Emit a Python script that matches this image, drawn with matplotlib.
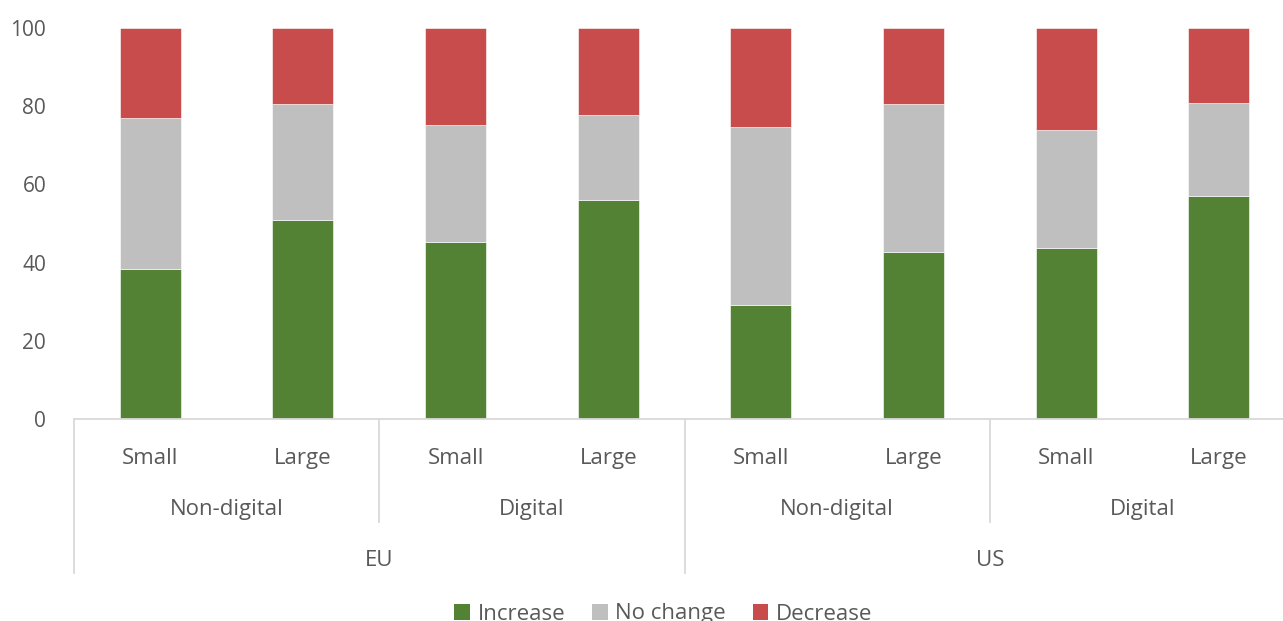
import matplotlib
matplotlib.use("Agg")
import matplotlib.pyplot as plt
import matplotlib.transforms as mtransforms
from matplotlib.patches import Patch
import numpy as np

# ---- data ----
regions = ["EU", "US"]
sectors = ["Non-digital", "Digital"]
sizes = ["Small", "Large"]
size_labels = ["Small", "Large", "Small", "Large", "Small", "Large", "Small", "Large"]
increase = [38.4, 50.9, 45.3, 56.0, 29.2, 42.7, 43.7, 57.0]
no_change = [38.5, 29.7, 30.0, 21.7, 45.4, 37.9, 30.2, 23.7]
decrease = [23.1, 19.4, 24.7, 22.3, 25.4, 19.4, 26.1, 19.3]
series_names = ["Increase", "No change", "Decrease"]
colors = ["#548235", "#BFBFBF", "#C84C4C"]

W, H = 1283, 621
plt.rcParams['font.family'] = ['Open Sans', 'DejaVu Sans']
fig = plt.figure(figsize=(W / 100, H / 100), dpi=100)

left_px, right_px, bottom_px, top_px = 74, 1295, 419, 28
ax = fig.add_axes([left_px / W, 1 - bottom_px / H, (right_px - left_px) / W, (bottom_px - top_px) / H])

x = np.arange(len(increase))
inc = np.array(increase)
nc = np.array(no_change)
dec = np.array(decrease)
bw = 0.4
ax.bar(x, inc, bw, color=colors[0], edgecolor="white", linewidth=0.4, zorder=2)
ax.bar(x, nc, bw, bottom=inc, color=colors[1], edgecolor="white", linewidth=0.4, zorder=2)
ax.bar(x, dec, bw, bottom=inc + nc, color=colors[2], edgecolor="white", linewidth=0.4, zorder=2)

ax.set_xlim(-0.5, len(x) - 0.5)
ax.set_ylim(0, 100)
ax.set_yticks([0, 20, 40, 60, 80, 100])
ax.tick_params(axis='y', length=0, pad=20, labelsize=15, labelcolor="#595959")
ax.set_xticks([])
for s in ["top", "right", "left"]:
    ax.spines[s].set_visible(False)
ax.spines["bottom"].set_color("#D9D9D9")
ax.spines["bottom"].set_linewidth(1.3)

txt_col = "#595959"
trans = mtransforms.blended_transform_factory(ax.transData, fig.transFigure)

def fy(py):
    return 1 - py / H

# level 1 labels
for i, lab in enumerate(size_labels):
    ax.text(x[i], fy(464), lab, transform=trans, ha="center", va="baseline",
            fontsize=16, color=txt_col, clip_on=False)

# level 2 labels
n_sec = len(sectors)
n_size = len(sizes)
k = 0
for r in range(len(regions)):
    for s in range(n_sec):
        c = k * n_size + (n_size - 1) / 2
        ax.text(c, fy(515), sectors[s], transform=trans, ha="center", va="baseline",
                fontsize=16, color=txt_col, clip_on=False)
        k += 1

# level 3 labels
per_region = n_sec * n_size
for r, reg in enumerate(regions):
    c = r * per_region + (per_region - 1) / 2
    ax.text(c, fy(566), reg, transform=trans, ha="center", va="baseline",
            fontsize=16, color=txt_col, clip_on=False)

# separators
line_kw = dict(color="#D9D9D9", linewidth=1.3, transform=trans, clip_on=False)
for r in range(len(regions) + 1):
    xb = r * per_region - 0.5
    ax.plot([xb, xb], [fy(419), fy(573)], **line_kw)
for r in range(len(regions)):
    for s in range(1, n_sec):
        xb = r * per_region + s * n_size - 0.5
        ax.plot([xb, xb], [fy(419), fy(522)], **line_kw)

# legend
handles = [Patch(facecolor=c, edgecolor="none") for c in colors]
fig.legend(handles, series_names, loc="center", bbox_to_anchor=(0.517, fy(614)),
           ncol=3, frameon=False, fontsize=16, labelcolor=txt_col,
           handlelength=0.7, handleheight=0.7, handletextpad=0.35, columnspacing=1.2)

fig.savefig("out.png", dpi=100)
